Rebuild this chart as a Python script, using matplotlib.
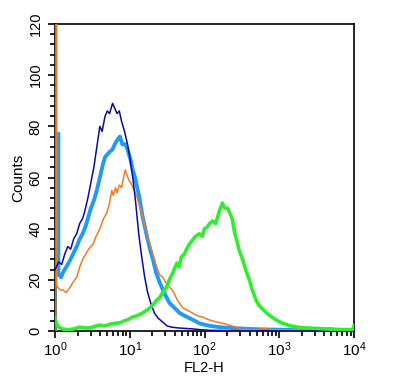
import numpy as np
import matplotlib
matplotlib.use("Agg")
import matplotlib.pyplot as plt
from matplotlib.ticker import MultipleLocator, LogLocator, NullFormatter

plt.rcParams['font.family'] = ['Liberation Sans', 'DejaVu Sans']
plt.rcParams['mathtext.fontset'] = 'custom'
plt.rcParams['mathtext.rm'] = 'Liberation Sans'
plt.rcParams['mathtext.it'] = 'Liberation Sans'

# FL2-H channel positions (log10) and counts
navy_pos = [0.0, 0.05, 0.09, 0.13, 0.17, 0.21, 0.25, 0.29, 0.33, 0.37, 0.40, 0.44,
            0.48, 0.52, 0.56, 0.60, 0.63, 0.67, 0.70, 0.73, 0.77, 0.80, 0.83, 0.86,
            0.89, 0.93, 0.97, 1.00, 1.04, 1.08, 1.12, 1.16, 1.20, 1.24, 1.28, 1.33,
            1.38, 1.44, 1.50, 1.56, 1.65, 1.75, 1.85, 1.95, 2.05, 2.2, 2.4, 3.0, 4.0]
navy_cnt = [24, 27, 26, 30, 33, 32, 36, 38, 42, 44, 47, 52,
            58, 64, 72, 80, 78, 84, 86, 85, 89, 87, 85, 86,
            82, 78, 73, 68, 60, 50, 38, 29, 21, 15, 11, 7,
            5, 3.5, 2, 1.5, 1.2, 1, 0.8, 0.5, 0.3, 0.2, 0, 0, 0]

blue_pos = [0.045, 0.045, 0.06, 0.08, 0.11, 0.15, 0.19, 0.24, 0.29, 0.33, 0.37, 0.41,
            0.44, 0.48, 0.52, 0.56, 0.60, 0.64, 0.67, 0.70, 0.73, 0.77, 0.80, 0.84,
            0.87, 0.90, 0.94, 0.97, 1.01, 1.04, 1.07, 1.10, 1.13, 1.17, 1.20, 1.23,
            1.27, 1.31, 1.35, 1.40, 1.46, 1.53, 1.60, 1.67, 1.73, 1.80, 1.87, 1.93,
            2.0, 2.07, 2.2, 2.35, 2.47, 2.6, 2.8, 3.0, 3.3, 3.6, 4.0]
blue_cnt = [77, 22, 22, 21, 23, 25, 27, 30, 33, 36, 38, 41,
            44, 48, 51, 55, 60, 65, 68, 69, 70, 71, 73, 75,
            76, 73, 73, 71, 67, 63, 60, 56, 52, 45, 41, 37,
            32, 28, 23, 19, 15, 11, 9, 7, 6, 5, 4, 3,
            2.5, 2, 1.5, 1.2, 1, 0.8, 0.6, 0.5, 0.3, 0.2, 0.2]

orange_pos = [0.022, 0.022, 0.04, 0.07, 0.11, 0.15, 0.20, 0.24, 0.29, 0.33, 0.37, 0.41,
              0.45, 0.51, 0.55, 0.60, 0.65, 0.69, 0.73, 0.76, 0.78, 0.81, 0.83, 0.86,
              0.89, 0.91, 0.94, 0.96, 0.99, 1.03, 1.06, 1.09, 1.13, 1.17, 1.22, 1.27,
              1.31, 1.36, 1.40, 1.44, 1.50, 1.57, 1.64, 1.71, 1.78, 1.84, 1.90, 1.97,
              2.05, 2.16, 2.25, 2.33, 2.42, 2.5, 2.7, 2.8, 2.9, 3.3, 3.7, 3.75, 4.0]
orange_cnt = [130, 18, 17, 16, 16, 15, 17, 19, 21, 25, 28, 30,
              32, 34, 37, 40, 44, 46, 50, 55, 53, 56, 54, 57,
              56, 59, 63, 61, 59, 57, 55, 53, 49, 45, 39, 34,
              30, 25, 22, 21, 18, 16, 12, 9, 8, 7, 6, 5.5,
              4.5, 3.5, 3, 2.3, 1.5, 0.5, 0.5, 1, 0.5, 0.5, 1.2, 0.5, 0.5]

# grey overlay channel at the left edge
grey_pos = [0.01, 0.01]
grey_cnt = [130, 0]

green_pos = [0.0, 0.02, 0.05, 0.10, 0.17, 0.25, 0.33, 0.40, 0.47, 0.53, 0.60, 0.67,
             0.73, 0.80, 0.87, 0.93, 0.98, 1.04, 1.10, 1.17, 1.22, 1.27, 1.32, 1.36,
             1.40, 1.44, 1.49, 1.53, 1.58, 1.63, 1.66, 1.69, 1.73, 1.76, 1.80, 1.84,
             1.88, 1.93, 1.97, 2.00, 2.03, 2.07, 2.11, 2.15, 2.18, 2.20, 2.24, 2.27,
             2.31, 2.34, 2.37, 2.40, 2.43, 2.47, 2.51, 2.55, 2.60, 2.64, 2.69, 2.73,
             2.78, 2.83, 2.90, 2.96, 3.03, 3.10, 3.15, 3.25, 3.36, 3.50, 3.63, 3.80,
             3.93, 3.98, 4.0]
green_cnt = [5, 3, 1.5, 0.8, 0.5, 0.8, 1.5, 1.2, 1.2, 1.8, 2.3, 2.0,
             2.6, 3, 3.2, 4, 4.5, 5.5, 6, 7, 8, 9, 10.5, 12,
             13, 15, 17, 20, 23, 26.5, 25, 29, 30, 32, 34, 35.5,
             37, 38, 37, 40, 40.5, 42, 43, 42, 45, 47, 50, 48,
             48, 46, 44, 39, 35.5, 31, 28, 24, 20, 16, 12, 10,
             8.5, 7, 5.5, 4.3, 3.2, 2.5, 2, 1.5, 1.2, 1, 0.8, 0.6,
             0.5, 0.5, 2]

x_ticks = [1, 10, 100, 1000, 10000]
x_labels = [r'$10^{0}$', r'$10^{1}$', r'$10^{2}$', r'$10^{3}$', r'$10^{4}$']
y_ticks = [0, 20, 40, 60, 80, 100, 120]

fig = plt.figure(figsize=(3.93, 3.90), dpi=100)
ax = fig.add_axes([55 / 393, 59 / 390, 299 / 393, 307 / 390])

ax.plot(10 ** np.array(blue_pos), blue_cnt, color='#1E9BF5', lw=2.8, zorder=2)
ax.plot(10 ** np.array(grey_pos), grey_cnt, color='#8C7A6E', lw=1.5, zorder=3)
ax.plot(10 ** np.array(orange_pos), orange_cnt, color='#F47A20', lw=1.1, zorder=3)
ax.plot(10 ** np.array(navy_pos), navy_cnt, color='#0A0AA8', lw=1.1, zorder=4)
ax.plot(10 ** np.array(green_pos), green_cnt, color='#2EEE2E', lw=2.6, zorder=5)

ax.set_xscale('log')
ax.set_xlim(1, 10000)
ax.set_ylim(0, 120)

ax.set_xticks(x_ticks)
ax.set_xticklabels(x_labels, fontsize=11)
ax.xaxis.set_minor_locator(LogLocator(base=10, subs=np.arange(2, 10)))
ax.xaxis.set_minor_formatter(NullFormatter())
ax.set_yticks(y_ticks)
ax.set_yticklabels([str(v) for v in y_ticks], fontsize=10.5, rotation=90, va='center')
ax.yaxis.set_minor_locator(MultipleLocator(4))

ax.tick_params(axis='both', which='major', direction='out', length=5, width=1.2, pad=2)
ax.tick_params(axis='both', which='minor', direction='out', length=3.5, width=1.2)
ax.tick_params(axis='y', which='major', pad=4)

for s in ax.spines.values():
    s.set_linewidth(1.2)

ax.set_xlabel('FL2-H', fontsize=10.5, labelpad=1)
ax.set_ylabel('Counts', fontsize=11, labelpad=2)

fig.savefig('out.png', dpi=100)
